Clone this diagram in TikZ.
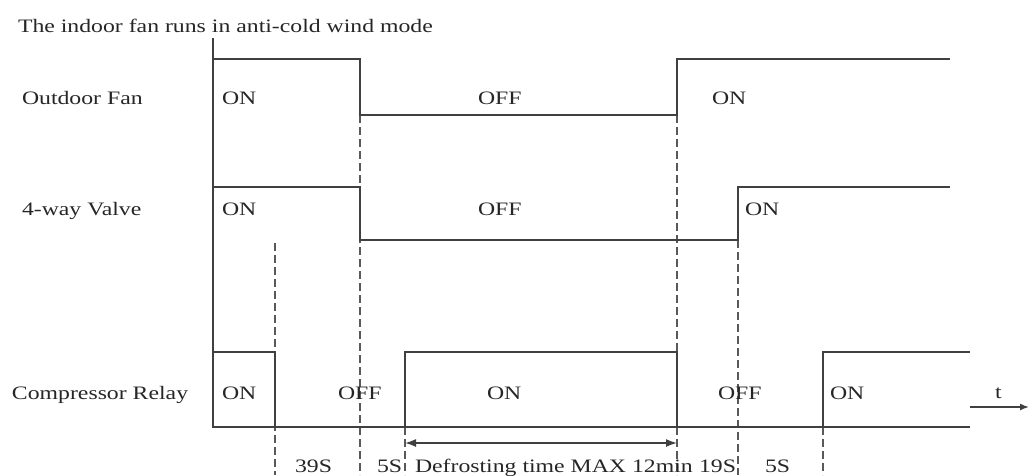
\documentclass[tikz,border=0pt]{standalone}
\usepackage{fontspec}
\setmainfont[FakeStretch=1.25]{Liberation Serif}
\usetikzlibrary{arrows.meta}
\begin{document}
\begin{tikzpicture}[x=1pt,y=-1pt,
  sig/.style={line width=1.8pt, draw=black!75, line join=miter},
  guide/.style={line width=1.7pt, draw=black!65, dash pattern=on 8pt off 4pt},
  lbl/.style={anchor=base west, inner sep=0pt, outer sep=0pt, text=black!85, font=\fontsize{19}{20}\selectfont}]
\useasboundingbox (0,0) rectangle (1029,475);
% key coordinates
\coordinate (a0) at (213,38);
\coordinate (ab) at (213,427);
\coordinate (ae) at (970,427);
% dashed guides (drawn first)
\coordinate (g1t) at (275,243);  \coordinate (g1b) at (275,475);
\coordinate (g2t) at (360,115);  \coordinate (g2b) at (360,475);
\coordinate (g3t) at (405,427);  \coordinate (g3b) at (405,475);
\coordinate (g4t) at (677,115);  \coordinate (g4b) at (677,475);
\coordinate (g5t) at (738,240);  \coordinate (g5b) at (738,475);
\coordinate (g6t) at (823,427);  \coordinate (g6b) at (823,475);
\foreach \g in {1,...,6} \draw[guide] (g\g t) -- (g\g b);
% axis
\draw[sig] (a0) -- (ab) -- (ae);
% outdoor fan
\draw[sig] (213,59) -- (360,59) -- (360,115) -- (677,115) -- (677,59) -- (950,59);
% 4-way valve
\draw[sig] (213,187) -- (360,187) -- (360,240) -- (738,240) -- (738,187) -- (950,187);
% compressor relay
\draw[sig] (213,352) -- (275,352) -- (275,427);
\draw[sig] (405,427) -- (405,352) -- (677,352) -- (677,427);
\draw[sig] (823,427) -- (823,352) -- (970,352);
% defrost arrow
\coordinate (d1) at (405,443); \coordinate (d2) at (677,443);
\draw[sig, line width=1.5pt, {Latex[length=11pt,width=8pt]}-{Latex[length=11pt,width=8pt]}] (d1) -- (d2);
% time arrow
\coordinate (t1) at (970,407); \coordinate (t2) at (1029,407);
\draw[sig, line width=1.5pt, -{Latex[length=9pt,width=7pt]}] (t1) -- (t2);
% labels
\node[lbl] (title) at (18,32) {The indoor fan runs in anti-cold wind mode};
\node[lbl] (lof) at (22,104) {Outdoor Fan};
\node[lbl] (lvv) at (22,215) {4-way Valve};
\node[lbl] (lcr) at (12,399) {Compressor Relay};
\node[lbl] (f1) at (222,104) {ON};
\node[lbl] (f2) at (478,104) {OFF};
\node[lbl] (f3) at (712,104) {ON};
\node[lbl] (v1) at (222,215) {ON};
\node[lbl] (v2) at (478,215) {OFF};
\node[lbl] (v3) at (745,215) {ON};
\node[lbl] (c1) at (222,399) {ON};
\node[lbl] (c2) at (338,399) {OFF};
\node[lbl] (c3) at (487,399) {ON};
\node[lbl] (c4) at (718,399) {OFF};
\node[lbl] (c5) at (830,399) {ON};
\node[lbl] (tt) at (995,398) {t};
\node[lbl] (s1) at (295,472) {39S};
\node[lbl] (s2) at (377,472) {5S};
\node[lbl] (s3) at (415,472) {Defrosting time MAX 12min};
\node[lbl] (s4) at (699,472) {19S};
\node[lbl] (s5) at (765,472) {5S};
\end{tikzpicture}
\end{document}
